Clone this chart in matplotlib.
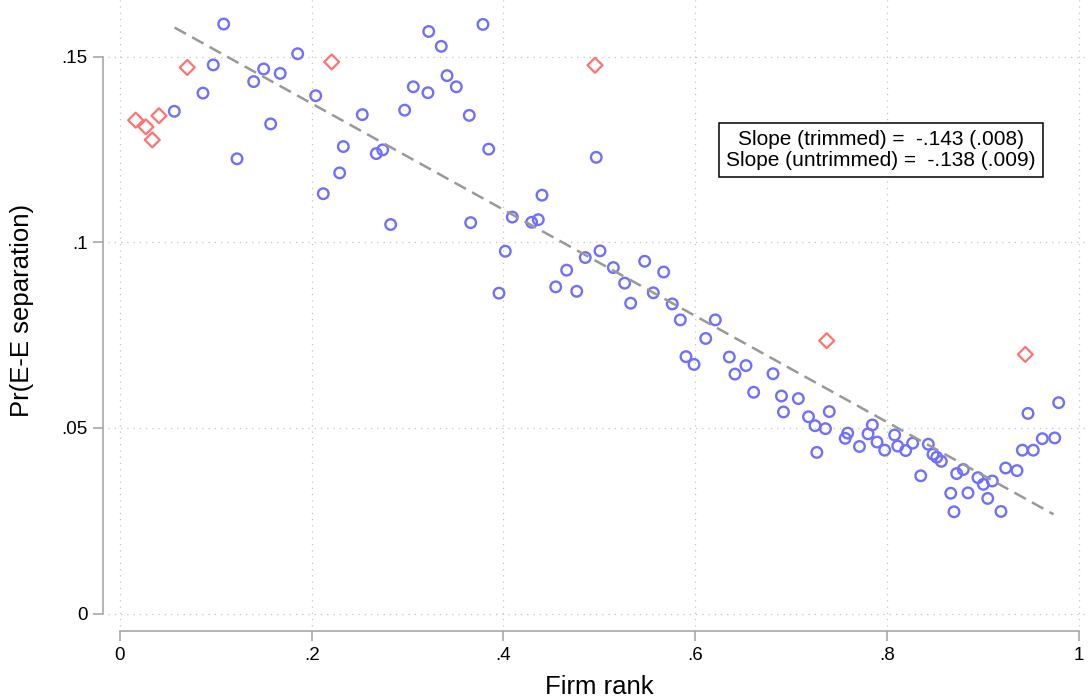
import numpy as np
import matplotlib
matplotlib.use("Agg")
import matplotlib.pyplot as plt

plt.rcParams['font.family'] = ['Liberation Sans', 'DejaVu Sans']

# firm-rank bins kept in the trimmed sample (circles)
kept_x = [0.0567, 0.0866, 0.0973, 0.1082, 0.1221, 0.1395, 0.1499, 0.1572, 0.1672, 0.1854,
          0.2042, 0.2121, 0.2292, 0.2330, 0.2528, 0.2674, 0.2741, 0.2824, 0.2970, 0.3060,
          0.3213, 0.3221, 0.3352, 0.3412, 0.3509, 0.3644, 0.3659, 0.3787, 0.3847, 0.3954,
          0.4020, 0.4093, 0.4295, 0.4364, 0.4403, 0.4546, 0.4660, 0.4765, 0.4854, 0.4969,
          0.5008, 0.5147, 0.5265, 0.5328, 0.5474, 0.5564, 0.5672, 0.5762, 0.5846, 0.5905,
          0.5989, 0.6111, 0.6211, 0.6357, 0.6416, 0.6531, 0.6611, 0.6813, 0.6901, 0.6922,
          0.7077, 0.7183, 0.7251, 0.7270, 0.7360, 0.7400, 0.7566, 0.7592, 0.7715, 0.7804,
          0.7849, 0.7898, 0.7978, 0.8082, 0.8114, 0.8197, 0.8270, 0.8354, 0.8433, 0.8482,
          0.8521, 0.8569, 0.8667, 0.8701, 0.8729, 0.8798, 0.8847, 0.8951, 0.9007, 0.9053,
          0.9101, 0.9191, 0.9240, 0.9358, 0.9414, 0.9473, 0.9528, 0.9622, 0.9752, 0.9793]
kept_y = [0.1353, 0.1402, 0.1478, 0.1588, 0.1225, 0.1433, 0.1467, 0.1319, 0.1455, 0.1508,
          0.1395, 0.1131, 0.1187, 0.1258, 0.1344, 0.1239, 0.1249, 0.1048, 0.1356, 0.1419,
          0.1403, 0.1568, 0.1528, 0.1449, 0.1419, 0.1342, 0.1053, 0.1587, 0.1251, 0.0863,
          0.0976, 0.1068, 0.1054, 0.1061, 0.1127, 0.0880, 0.0925, 0.0868, 0.0959, 0.1229,
          0.0977, 0.0932, 0.0890, 0.0836, 0.0949, 0.0864, 0.0920, 0.0834, 0.0791, 0.0692,
          0.0671, 0.0741, 0.0791, 0.0691, 0.0645, 0.0668, 0.0596, 0.0646, 0.0586, 0.0543,
          0.0579, 0.0530, 0.0506, 0.0434, 0.0498, 0.0544, 0.0472, 0.0486, 0.0450, 0.0484,
          0.0508, 0.0462, 0.0440, 0.0481, 0.0451, 0.0439, 0.0459, 0.0371, 0.0456, 0.0429,
          0.0421, 0.0410, 0.0324, 0.0274, 0.0377, 0.0388, 0.0325, 0.0366, 0.0348, 0.0310,
          0.0357, 0.0275, 0.0392, 0.0385, 0.0440, 0.0539, 0.0440, 0.0471, 0.0473, 0.0568]

# trimmed bins (diamonds)
trim_x = [0.0164, 0.0271, 0.0337, 0.0407, 0.0702, 0.2209, 0.4956, 0.7373, 0.9445]
trim_y = [0.1329, 0.1311, 0.1276, 0.1341, 0.1471, 0.1486, 0.1477, 0.0735, 0.0698]

# fitted line on trimmed sample
fit_intercept = 0.166
fit_slope = -0.143
fit_range = [0.057, 0.974]

note = "Slope (trimmed) =  -.143 (.008)\nSlope (untrimmed) =  -.138 (.009)"

xticks = [0, 0.2, 0.4, 0.6, 0.8, 1.0]
xtick_labels = ["0", ".2", ".4", ".6", ".8", "1"]
yticks = [0, 0.05, 0.10, 0.15]
ytick_labels = ["0", ".05", ".1", ".15"]

fig = plt.figure(figsize=(10.88, 7.0), dpi=100)
ax = fig.add_axes([103 / 1088, 69.3 / 700, 985 / 1088, 630.7 / 700])
ax.set_xlim(-0.0177, 1.0099)
ax.set_ylim(-0.00463, 0.16528)

grid_kw = dict(color='#c4c4c4', lw=0.9, linestyles=[(0, (1, 4))], zorder=0)
ax.hlines(yticks, -0.012, 1.0099, **grid_kw)
ax.vlines(xticks, -0.0033, 0.16528, **grid_kw)

ax.scatter(kept_x, kept_y, s=58, facecolors='none', edgecolors='#7070ff',
           linewidths=1.7, zorder=3)
ax.scatter(trim_x, trim_y, s=58, marker='D', facecolors='none', edgecolors='#ff7272',
           linewidths=1.6, zorder=3)

fx = np.array(fit_range)
ax.plot(fx, fit_intercept + fit_slope * fx, color='#999999', lw=1.8,
        ls=(0, (5.2, 2.8)), zorder=4)

ax.text(0.794, 0.1249, note, ha='center', va='center', fontsize=15, linespacing=1.1,
        bbox=dict(boxstyle='square,pad=0.33', fc='white', ec='black', lw=1.1), zorder=5)

for s in ['top', 'right']:
    ax.spines[s].set_visible(False)
ax.spines['left'].set_bounds(0, 0.15)
ax.spines['bottom'].set_bounds(0, 1)
for s in ['left', 'bottom']:
    ax.spines[s].set_color('#a0a0a0')
    ax.spines[s].set_linewidth(1.1)

ax.set_xticks(xticks, xtick_labels)
ax.set_yticks(yticks, ytick_labels)
ax.tick_params(length=7.5, width=1.1, color='#a0a0a0', labelsize=13.5)
ax.tick_params(axis='y', pad=3.5)
ax.tick_params(axis='x', pad=4.5)

ax.set_xlabel("Firm rank", fontsize=18.5)
ax.xaxis.label.set_va('baseline')
ax.xaxis.set_label_coords(0.5036, -0.100)
ax.set_ylabel("Pr(E-E separation)", fontsize=18.5)
ax.yaxis.set_label_coords(-0.070, 0.5085)

fig.savefig("out.png", dpi=100)
